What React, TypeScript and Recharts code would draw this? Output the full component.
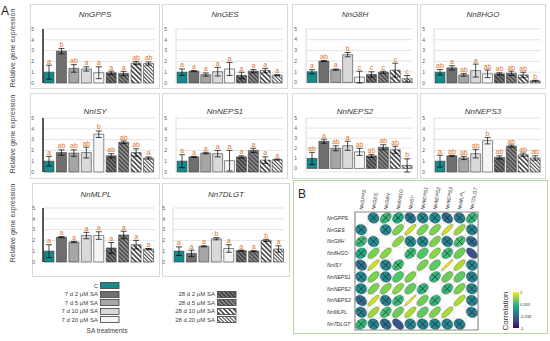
import React from 'react';
import {
  BarChart,
  Bar,
  Cell,
  XAxis,
  YAxis,
  CartesianGrid,
  ErrorBar,
  LabelList,
  ScatterChart,
  Scatter,
  ReferenceLine,
  ReferenceArea,
} from 'recharts';

// treatments (bar order)
const treatments = [
  'C',
  '7 d 2 µM SA',
  '7 d 5 µM SA',
  '7 d 10 µM SA',
  '7 d 20 µM SA',
  '28 d 2 µM SA',
  '28 d 5 µM SA',
  '28 d 10 µM SA',
  '28 d 20 µM SA',
];

// relative expression per gene: mean, error, significance letters
const nnGPPS = {
  mean: [1.0, 2.95, 1.35, 1.3, 0.95, 0.95, 0.88, 1.85, 1.8],
  err: [0.65, 0.25, 0.35, 0.2, 0.55, 0.15, 0.2, 0.15, 0.15],
  sig: ['a', 'b', 'ab', 'a', 'a', 'a', 'a', 'ab', 'ab'],
};
const nnGES = {
  mean: [1.0, 1.1, 0.78, 1.05, 1.3, 0.7, 1.1, 1.15, 0.72],
  err: [0.3, 0.05, 0.15, 0.4, 0.6, 0.3, 0.15, 0.2, 0.05],
  sig: ['a', 'a', 'a', 'a', 'a', 'a', 'a', 'a', 'a'],
};
const nnG8H = {
  mean: [1.0, 2.0, 1.2, 2.6, 0.5, 0.75, 0.95, 1.15, 0.35],
  err: [0.2, 0.05, 0.06, 0.2, 0.55, 0.25, 0.1, 0.65, 0.3],
  sig: ['a', 'ab', 'a', 'b', 'c', 'c', 'c', 'c', 'c'],
};
const nn8HGO = {
  mean: [1.0, 1.4, 0.75, 1.15, 0.85, 0.85, 0.9, 0.75, 0.2],
  err: [0.25, 0.2, 0.12, 0.6, 0.35, 0.1, 0.2, 0.25, 0.05],
  sig: ['ab', 'a', 'ab', 'a', 'ab', 'ab', 'ab', 'ab', 'b'],
};
const nnISY = {
  mean: [1.0, 1.8, 1.75, 1.8, 3.5, 1.5, 2.75, 1.8, 1.3],
  err: [0.45, 0.25, 0.3, 0.5, 0.3, 0.2, 0.12, 0.35, 0.1],
  sig: ['a', 'ab', 'ab', 'ab', 'b', 'ab', 'ab', 'ab', 'a'],
};
const nnNEPS1 = {
  mean: [1.0, 1.4, 1.75, 1.7, 1.05, 1.4, 2.0, 1.1, 1.15],
  err: [0.6, 0.05, 0.08, 0.3, 0.95, 0.1, 0.2, 0.3, 0.05],
  sig: ['a', 'a', 'a', 'a', 'a', 'a', 'a', 'a', 'a'],
};
const nnNEPS2 = {
  mean: [1.0, 2.7, 2.0, 2.25, 1.65, 1.25, 2.1, 1.85, 0.3],
  err: [0.6, 0.2, 0.25, 0.45, 0.35, 0.15, 0.25, 0.35, 0.65],
  sig: ['ab', 'a', 'ab', 'a', 'ab', 'ab', 'ab', 'ab', 'b'],
};
const nnNEPS3 = {
  mean: [1.0, 1.5, 1.3, 1.7, 2.9, 1.35, 2.4, 1.6, 1.3],
  err: [0.55, 0.05, 0.15, 0.4, 0.3, 0.15, 0.1, 0.15, 0.2],
  sig: ['a', 'ab', 'ab', 'ab', 'b', 'ab', 'ab', 'ab', 'ab'],
};
const nnMLPL = {
  mean: [1.0, 2.3, 1.85, 2.45, 2.45, 1.3, 2.5, 1.6, 1.2],
  err: [0.6, 0.05, 0.06, 0.3, 0.35, 0.5, 0.35, 0.4, 0.05],
  sig: ['a', 'a', 'a', 'a', 'a', 'a', 'a', 'a', 'a'],
};
const nn7DLGT = {
  mean: [1.0, 0.8, 1.45, 2.15, 1.25, 1.05, 1.0, 2.0, 1.2],
  err: [0.4, 0.3, 0.05, 0.1, 0.35, 0.05, 0.05, 0.1, 0.3],
  sig: ['a', 'a', 'a', 'b', 'a', 'a', 'a', 'b', 'a'],
};

const yTicks = [0, 1, 2, 3, 4, 5];

// correlation matrix (panel B)
const genes = ['NnGPPS', 'NnGES', 'NnG8H', 'Nn8HGO', 'NnISY', 'NnNEPS1', 'NnNEPS2', 'NnNEPS3', 'NnMLPL', 'Nn7DLGT'];
const corr = [
  [1, -0.08, 0.35, 0.2, -0.25, -0.1, -0.05, -0.3, -0.15, 0.3],
  [-0.08, 1, -0.05, 0.6, 0.85, 0.6, 0.6, 0.85, 0.7, -0.12],
  [0.35, -0.05, 1, 0.65, -0.1, -0.08, 0.6, -0.15, 0.4, -0.3],
  [0.2, 0.6, 0.65, 1, 0.35, 0.45, 0.65, 0.35, 0.55, -0.5],
  [-0.25, 0.85, -0.1, 0.35, 1, 0.6, 0.5, 0.95, 0.75, -0.1],
  [-0.1, 0.6, -0.08, 0.45, 0.6, 1, 0.3, 0.55, 0.5, -0.12],
  [-0.05, 0.6, 0.6, 0.65, 0.5, 0.3, 1, 0.3, 0.6, -0.08],
  [-0.3, 0.85, -0.15, 0.35, 0.95, 0.55, 0.3, 1, 0.75, -0.1],
  [-0.15, 0.7, 0.4, 0.55, 0.75, 0.5, 0.6, 0.75, 1, -0.15],
  [0.3, -0.12, -0.3, -0.5, -0.1, -0.12, -0.08, -0.1, -0.15, 1],
];
// X = not significant
const nonSig = [
  '-XXXXXXXXX',
  'X-X......X',
  'XX-.XX.XXX',
  'X..-X..X..',
  'X.XX-....X',
  'X.X..-X..X',
  'X....X-X.X',
  'X.XX..X-.X',
  'X.X.....-X',
  'XXX.XXXXX-',
];
const colorbarTicks = ['1', '0.333', '-0.333', '-1'];

const FONT = '"Liberation Sans", Arial, sans-serif';
const fills = ['#17898a', '#6f6f6f', '#a6a6a6', '#d9d9d9', '#f5f5f5', 'url(#h28d2)', 'url(#h28d5)', 'url(#h28d10)', 'url(#h28d20)'];
const orange = '#e2751f';

const viridis = ['#440154', '#482475', '#414487', '#355f8d', '#2a788e', '#21918c', '#22a884', '#44bf70', '#7ad151', '#bddf26', '#fde725'];
function hex(c: string) {
  return [1, 3, 5].map((i) => parseInt(c.slice(i, i + 2), 16));
}
function corrColor(r: number) {
  const t = Math.max(0, Math.min(1, (r + 1) / 2)) * 10;
  const i = Math.min(9, Math.floor(t));
  const f = t - i;
  const a = hex(viridis[i]);
  const b = hex(viridis[i + 1]);
  const m = a.map((v, k) => Math.round(v + (b[k] - v) * f));
  return `rgb(${m[0]},${m[1]},${m[2]})`;
}

function Patterns() {
  return (
    <svg width={0} height={0} style={{ position: 'absolute' }}>
      <defs>
        <pattern id="h28d2" patternUnits="userSpaceOnUse" width={3} height={3} patternTransform="rotate(-45)">
          <rect width={3} height={3} fill="#3c3c3c" />
          <rect width={1.2} height={3} fill="#8a8a8a" />
        </pattern>
        <pattern id="h28d5" patternUnits="userSpaceOnUse" width={3} height={3} patternTransform="rotate(-45)">
          <rect width={3} height={3} fill="#9a9a9a" />
          <rect width={1.5} height={3} fill="#404040" />
        </pattern>
        <pattern id="h28d10" patternUnits="userSpaceOnUse" width={3.4} height={3.4} patternTransform="rotate(-45)">
          <rect width={3.4} height={3.4} fill="#ffffff" />
          <rect width={1.6} height={3.4} fill="#404040" />
        </pattern>
        <pattern id="h28d20" patternUnits="userSpaceOnUse" width={2.6} height={2.6} patternTransform="rotate(-45)">
          <rect width={2.6} height={2.6} fill="#ffffff" />
          <rect width={1} height={2.6} fill="#404040" />
        </pattern>
      </defs>
    </svg>
  );
}

type Gene = { mean: number[]; err: number[]; sig: string[] };

function GenePanel(props: {
  title: string;
  gene: Gene;
  x: number;
  y: number;
  w: number;
  h: number;
  axisX: number;
  titleY: number;
  dark?: boolean;
}) {
  const { title, gene, x, y, w, h, axisX, titleY, dark } = props;
  const data = treatments.map((t, i) => ({ name: t, value: gene.mean[i], err: gene.err[i], sig: gene.sig[i] }));
  const renderSig = (p: any) => {
    const idx = p.index;
    const bh = Number(p.height);
    const ppu = bh / gene.mean[idx];
    const top = Number(p.y) - gene.err[idx] * ppu;
    return (
      <text x={Number(p.x) + Number(p.width) / 2} y={top - 1.5} textAnchor="middle" fontSize={7} fill={orange} fontFamily={FONT}>
        {gene.sig[idx]}
      </text>
    );
  };
  return (
    <div style={{ position: 'absolute', left: x, top: y, width: w, height: h }}>
      <div
        style={{
          position: 'absolute',
          inset: 0,
          border: '1px solid #d9d9d9',
          boxSizing: 'border-box',
        }}
      />
      <div
        style={{
          position: 'absolute',
          left: 0,
          width: w,
          top: titleY - y - 5,
          textAlign: 'center',
          fontFamily: FONT,
          fontSize: 8,
          lineHeight: '10px',
          fontStyle: 'italic',
          fontWeight: 'normal',
          color: '#3a3a3a',
        }}
      >
        {title}
      </div>
      <div style={{ position: 'absolute', left: 0, top: 0 }}>
        <BarChart
          width={w}
          height={h}
          data={data}
          margin={{ top: 25, right: 5, bottom: h - 25 - 54, left: 0 }}
          barCategoryGap={1}
        >
          <CartesianGrid vertical={false} stroke="#d9d9d9" strokeWidth={0.7} />
          <XAxis dataKey="name" hide />
          <YAxis
            domain={[0, 5]}
            ticks={yTicks}
            width={axisX - x}
            tickLine={false}
            tickMargin={axisX - x < 12 ? 2 : 3}
            interval={0}
            axisLine={{ stroke: dark ? '#000' : '#d0d0d0', strokeWidth: dark ? 1.3 : 0.8 }}
            tick={{ fontSize: 5, fill: '#595959', fontFamily: FONT }}
          />
          <Bar dataKey="value" stroke="#404040" strokeWidth={0.6} isAnimationActive={false}>
            {data.map((d, i) => (
              <Cell key={d.name} fill={fills[i]} />
            ))}
            <ErrorBar dataKey="err" width={3} stroke="#000" strokeWidth={0.7} />
            <LabelList dataKey="sig" content={renderSig} />
          </Bar>
        </BarChart>
      </div>
    </div>
  );
}

function YLabel({ cy }: { cy: number }) {
  return (
    <div
      style={{
        position: 'absolute',
        left: 13 - 50,
        top: cy - 5,
        width: 100,
        height: 10,
        lineHeight: '10px',
        textAlign: 'center',
        transform: 'rotate(-90deg)',
        fontFamily: FONT,
        fontSize: 7,
        color: '#404040',
        whiteSpace: 'nowrap',
      }}
    >
      Relative gene expression
    </div>
  );
}

function Swatch({ x, y, fill }: { x: number; y: number; fill: string }) {
  return (
    <svg style={{ position: 'absolute', left: x, top: y }} width={20} height={7}>
      <rect x={0.5} y={0.5} width={18.5} height={6} fill={fill} stroke="#404040" strokeWidth={0.8} />
    </svg>
  );
}

function LegendText({ right, cy, text }: { right: number; cy: number; text: string }) {
  return (
    <div
      style={{
        position: 'absolute',
        left: right - 80,
        width: 80,
        top: cy - 4,
        lineHeight: '8px',
        textAlign: 'right',
        fontFamily: FONT,
        fontSize: 6,
        color: '#404040',
        whiteSpace: 'nowrap',
      }}
    >
      {text}
    </div>
  );
}

const legendLeftY = [282, 290.5, 299, 307.5, 316];
const legendRightY = [290.5, 299, 307.5, 316];

// panel B geometry
const B = { x: 293, y: 180, w: 255, h: 154, left: 62, right: 70, top: 32, bottom: 4 };
const cellW = (B.w - B.left - B.right) / 10;
const cellH = (B.h - B.top - B.bottom) / 10;

function ellipsePath(cx: number, cy: number, r: number) {
  const d = Math.acos(Math.max(-1, Math.min(1, r)));
  const rx = cellW * 0.45;
  const ry = cellH * 0.45;
  let p = '';
  for (let k = 0; k <= 40; k++) {
    const t = (k / 40) * 2 * Math.PI;
    const ex = Math.cos(t + d / 2);
    const ey = Math.cos(t - d / 2);
    p += (k ? 'L' : 'M') + (cx + ex * rx).toFixed(2) + ',' + (cy - ey * ry).toFixed(2);
  }
  return p + 'Z';
}

function CorrShape(props: any) {
  const { cx, cy, payload } = props;
  const s = 3.6;
  return (
    <g>
      <path d={ellipsePath(cx, cy, payload.r)} fill={corrColor(payload.r)} stroke="#2b2b2b" strokeWidth={0.3} />
      {payload.ns && (
        <g stroke="#1a1a1a" strokeWidth={0.6}>
          <line x1={cx - s} y1={cy - s} x2={cx + s} y2={cy + s} />
          <line x1={cx - s} y1={cy + s} x2={cx + s} y2={cy - s} />
        </g>
      )}
    </g>
  );
}

function CorrPanel() {
  const pts: { x: number; y: number; r: number; ns: boolean }[] = [];
  corr.forEach((row, i) =>
    row.forEach((r, j) => {
      if (i !== j) pts.push({ x: j, y: i, r, ns: nonSig[i][j] === 'X' });
    })
  );
  const idx = genes.map((_, i) => i);
  const half = idx.slice(0, 9).map((i) => i + 0.5);
  return (
    <div style={{ position: 'absolute', left: B.x, top: B.y, width: B.w, height: B.h }}>
      <div style={{ position: 'absolute', inset: 0, border: '1px solid #b7d89c', boxSizing: 'border-box' }} />
      <div style={{ position: 'absolute', left: 5, top: 7, fontFamily: FONT, fontSize: 12, color: '#222' }}>B</div>
      <div style={{ position: 'absolute', left: 0, top: 0 }}>
        <ScatterChart width={B.w} height={B.h} margin={{ top: 0, right: B.right, bottom: B.bottom, left: 0 }}>
          <XAxis
            type="number"
            dataKey="x"
            domain={[-0.5, 9.5]}
            ticks={idx}
            interval={0}
            orientation="top"
            height={B.top}
            axisLine={false}
            tickLine={false}
            tickSize={0}
            tick={(p: any) => (
              <text
                transform={`translate(${p.x + 1.5},${B.top - 2}) rotate(-80)`}
                fontSize={5}
                fontStyle="italic"
                fill="#333"
                fontFamily={FONT}
                textAnchor="start"
              >
                {genes[p.payload.value]}
              </text>
            )}
          />
          <YAxis
            type="number"
            dataKey="y"
            domain={[-0.5, 9.5]}
            ticks={idx}
            interval={0}
            reversed
            width={B.left}
            axisLine={false}
            tickLine={false}
            tickSize={0}
            tick={(p: any) => (
              <text x={34} y={p.y + 1.8} fontSize={5.2} fontStyle="italic" fill="#333" fontFamily={FONT} textAnchor="start">
                {genes[p.payload.value]}
              </text>
            )}
          />
          {half.map((v) => (
            <ReferenceLine key={'vx' + v} x={v} stroke="#e4e4e4" strokeWidth={0.6} />
          ))}
          {half.map((v) => (
            <ReferenceLine key={'hy' + v} y={v} stroke="#e4e4e4" strokeWidth={0.6} />
          ))}
          <Scatter data={pts} shape={CorrShape} isAnimationActive={false} />
          <ReferenceArea x1={-0.5} x2={9.5} y1={-0.5} y2={9.5} fill="none" stroke="#8c8c8c" strokeWidth={1.2} />
        </ScatterChart>
      </div>
      <div
        style={{
          position: 'absolute',
          left: 220,
          top: 112,
          width: 6,
          height: 36,
          background: `linear-gradient(to top, ${viridis.join(',')})`,
        }}
      />
      {colorbarTicks.map((t, i) => (
        <div
          key={t}
          style={{
            position: 'absolute',
            left: 227,
            top: 112 + i * 12 - 2.5,
            fontFamily: FONT,
            fontSize: 4,
            lineHeight: '5px',
            color: '#333',
          }}
        >
          {t}
        </div>
      ))}
      <div
        style={{
          position: 'absolute',
          left: 213 - 30,
          top: 131 - 5,
          width: 60,
          height: 10,
          lineHeight: '10px',
          textAlign: 'center',
          transform: 'rotate(-90deg)',
          fontFamily: FONT,
          fontSize: 8,
          color: '#333',
        }}
      >
        Correlation
      </div>
    </div>
  );
}

export default function App() {
  return (
    <div style={{ position: 'absolute', left: 0, top: 0, width: 550, height: 341, background: '#fff', overflow: 'hidden' }}>
      <Patterns />
      <div style={{ position: 'absolute', left: 1, top: 4, fontFamily: FONT, fontSize: 12, color: '#222' }}>A</div>
      <YLabel cy={48} />
      <YLabel cy={134} />
      <YLabel cy={223} />

      <GenePanel title="NnGPPS" gene={nnGPPS} x={30} y={4} w={130} h={85} axisX={43} titleY={15} dark />
      <GenePanel title="NnGES" gene={nnGES} x={162} y={4} w={126} h={85} axisX={176} titleY={15} />
      <GenePanel title="NnG8H" gene={nnG8H} x={292} y={4} w={126} h={85} axisX={306} titleY={15} />
      <GenePanel title="Nn8HGO" gene={nn8HGO} x={420} y={4} w={126} h={85} axisX={434} titleY={15} />

      <GenePanel title="NnISY" gene={nnISY} x={30} y={93} w={130} h={86} axisX={43} titleY={112} dark />
      <GenePanel title="NnNEPS1" gene={nnNEPS1} x={162} y={93} w={126} h={86} axisX={176} titleY={112} />
      <GenePanel title="NnNEPS2" gene={nnNEPS2} x={292} y={93} w={126} h={86} axisX={306} titleY={112} />
      <GenePanel title="NnNEPS3" gene={nnNEPS3} x={420} y={93} w={126} h={86} axisX={434} titleY={112} />

      <GenePanel title="NnMLPL" gene={nnMLPL} x={32} y={183} w={128} h={94} axisX={43} titleY={195} dark />
      <GenePanel title="Nn7DLGT" gene={nn7DLGT} x={162} y={183} w={128} h={94} axisX={173} titleY={195} />

      {legendLeftY.map((yy, i) => (
        <React.Fragment key={treatments[i]}>
          <LegendText right={98} cy={yy + 3.5} text={treatments[i]} />
          <Swatch x={99.5} y={yy} fill={fills[i]} />
        </React.Fragment>
      ))}
      {legendRightY.map((yy, k) => (
        <React.Fragment key={treatments[k + 5]}>
          <LegendText right={215} cy={yy + 3.5} text={treatments[k + 5]} />
          <Swatch x={216.5} y={yy} fill={fills[k + 5]} />
        </React.Fragment>
      ))}
      <div
        style={{
          position: 'absolute',
          left: 67,
          width: 80,
          top: 327,
          textAlign: 'center',
          fontFamily: FONT,
          fontSize: 6.5,
          lineHeight: '8px',
          color: '#404040',
        }}
      >
        SA treatments
      </div>

      <CorrPanel />
    </div>
  );
}
